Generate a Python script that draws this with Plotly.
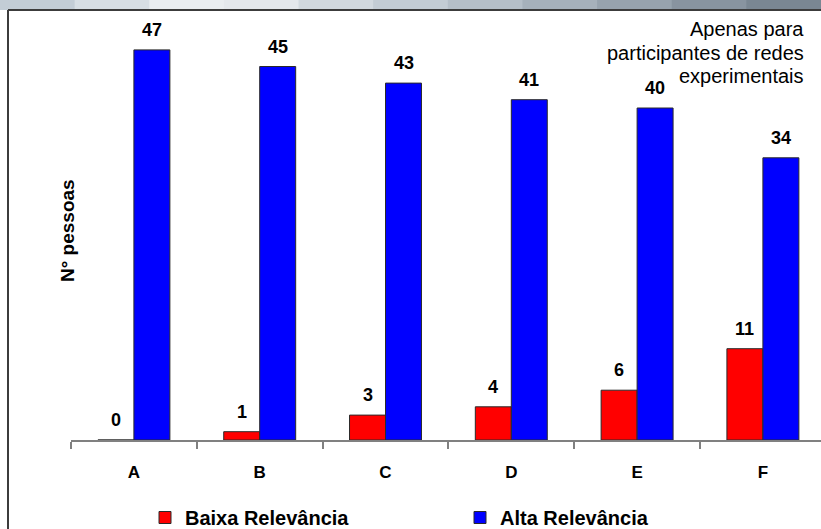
import plotly.graph_objects as go

categories = ["A", "B", "C", "D", "E", "F"]
baixa = [0, 1, 3, 4, 6, 11]
alta = [47, 45, 43, 41, 40, 34]
series_names = ["Baixa Relevância", "Alta Relevância"]
y_title = "N° pessoas"
note_lines = ["Apenas para", "participantes de redes", "experimentais"]

W, H = 821, 529
ML, MR, MT, MB = 71, 0, 25, 89
PW = W - ML - MR
PH = H - MT - MB
CAT_PX = 125.8
YMAX = 50

def px_x(px):
    return (px - ML) / PW

def px_y(py):
    return (H - MB - py) / PH

FONT = "Liberation Sans, Arial, sans-serif"

fig = go.Figure()
fig.add_trace(go.Bar(x=categories, y=baixa, name=series_names[0],
                     marker=dict(color="#ff0000", line=dict(color="#2a2a2a", width=1))))
fig.add_trace(go.Bar(x=categories, y=alta, name=series_names[1],
                     marker=dict(color="#0000ff", line=dict(color="#2a2a2a", width=1))))

annotations = []
for vals, shift in ((baixa, -18), (alta, 18)):
    for c, v in zip(categories, vals):
        annotations.append(dict(x=c, y=v, xref="x", yref="y", text=f"<b>{v}</b>",
                                showarrow=False, xshift=shift, yshift=20,
                                yanchor="middle", font=dict(size=18, color="#000", family=FONT)))

annotations.append(dict(x=px_x(67), y=px_y(231), xref="paper", yref="paper",
                        text=f"<b>{y_title}</b>", textangle=-90, showarrow=False,
                        xanchor="center", yanchor="middle",
                        font=dict(size=19, color="#000", family=FONT)))

for i, line in enumerate(note_lines):
    annotations.append(dict(x=px_x(806), y=px_y(29 + 23.5 * i), xref="paper", yref="paper",
                            text=line, showarrow=False, xanchor="right", yanchor="middle",
                            font=dict(size=20, color="#000", family=FONT)))

shapes = []
# top gradient strip
strip_cols = ["#c3cdd6", "#d7dee4", "#e9edf0", "#e4e8ec", "#d2d9df", "#c3ccd4",
              "#b5bfc8", "#a6b1bb", "#97a3ae", "#8894a0", "#7a8793"]
n = len(strip_cols)
for i, col in enumerate(strip_cols):
    shapes.append(dict(type="rect", xref="paper", yref="paper", layer="above",
                       x0=px_x(i * W / n), x1=px_x((i + 1) * W / n + 1),
                       y0=px_y(10), y1=px_y(-1), fillcolor=col, line=dict(width=0)))
# frame
shapes.append(dict(type="line", xref="paper", yref="paper", x0=px_x(8), x1=px_x(W + 5),
                   y0=px_y(10), y1=px_y(10), line=dict(color="#3c3c3c", width=2)))
shapes.append(dict(type="line", xref="paper", yref="paper", x0=px_x(8), x1=px_x(8),
                   y0=px_y(10), y1=px_y(H + 5), line=dict(color="#3c3c3c", width=2)))

fig.update_layout(
    width=W, height=H,
    margin=dict(l=ML, r=MR, t=MT, b=MB, autoexpand=False),
    paper_bgcolor="white", plot_bgcolor="white",
    barmode="group", bargap=0.428, bargroupgap=0,
    font=dict(family=FONT, color="#000"),
    xaxis=dict(type="category", range=[-0.5, -0.5 + PW / CAT_PX],
               showline=True, linecolor="#808080", linewidth=1.5,
               ticks="outside", tickson="boundaries", ticklen=7, tickcolor="#808080", tickwidth=1.5,
               tickfont=dict(size=17, family=FONT, weight="bold"), ticklabelstandoff=16,
               showgrid=False, zeroline=False, automargin=False),
    yaxis=dict(range=[0, YMAX], visible=False, showgrid=False),
    legend=dict(orientation="h", x=px_x(145), y=px_y(498), xanchor="left", yanchor="top",
                entrywidth=270, entrywidthmode="pixels",
                font=dict(size=20, family=FONT, weight="bold"), itemwidth=30,
                bgcolor="rgba(0,0,0,0)"),
    annotations=annotations,
    shapes=shapes,
)

fig.write_html("out.html", config={"displayModeBar": False},
               post_script="document.body.style.margin='0';document.body.style.padding='0';")
